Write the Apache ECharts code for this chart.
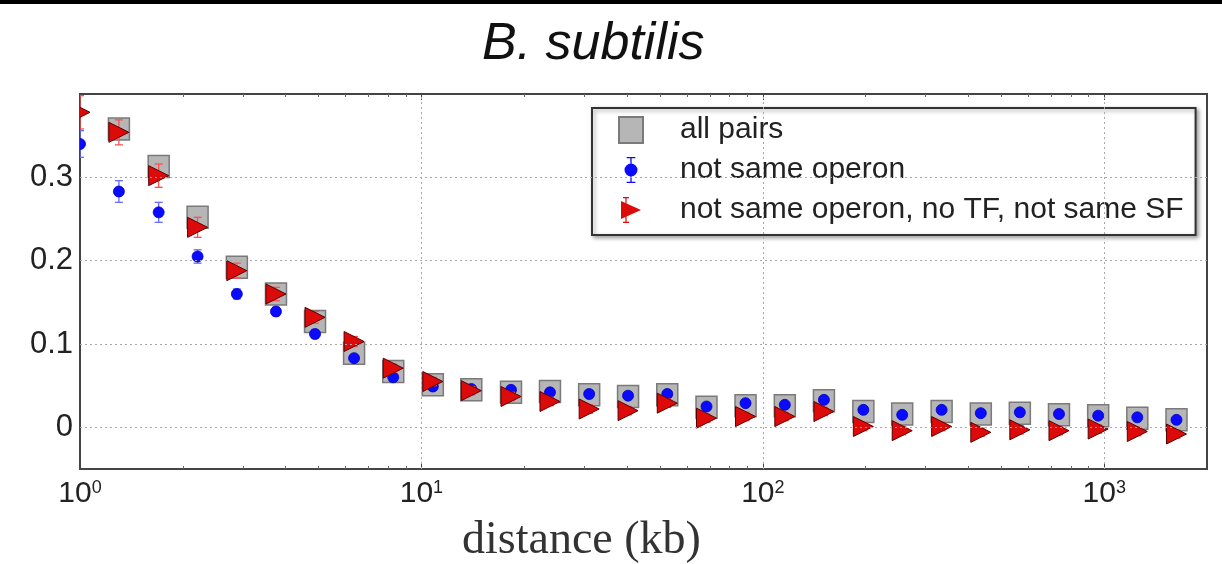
<!DOCTYPE html>
<html><head><meta charset="utf-8">
<script src="https://cdn.jsdelivr.net/npm/echarts@6/dist/echarts.min.js"></script>
<style>html,body{margin:0;padding:0;background:#fff}#c{width:1222px;height:564px}</style>
</head><body><div id="c"></div>
<script>
// distance bins (kb)
const distanceKb = [1.0, 1.30, 1.70, 2.21, 2.88, 3.75, 4.88, 6.35, 8.27, 10.8, 14.0, 18.3, 23.8, 31.0, 40.3, 52.5, 68.4, 89.0, 116, 151, 197, 256, 334, 435, 566, 737, 960, 1250, 1628];
const allPairs = [null, 0.358, 0.313, 0.252, 0.192, 0.160, 0.127, 0.089, 0.067, 0.051, 0.045, 0.042, 0.043, 0.039, 0.037, 0.039, 0.024, 0.026, 0.026, 0.032, 0.019, 0.016, 0.019, 0.016, 0.017, 0.015, 0.014, 0.011, 0.009];
const notSameOperon = [0.340, 0.283, 0.258, 0.205, 0.160, 0.139, 0.112, 0.083, 0.060, 0.049, 0.046, 0.045, 0.042, 0.040, 0.038, 0.040, 0.025, 0.029, 0.027, 0.033, 0.021, 0.015, 0.021, 0.017, 0.018, 0.016, 0.014, 0.012, 0.009];
const notSameOperonErr = [0.016, 0.013, 0.012, 0.008, 0.006, 0.005, 0.005, 0.004, 0.004, 0.004, 0.004, 0.004, 0.003, 0.003, 0.003, 0.003, 0.003, 0.003, 0.003, 0.003, 0.003, 0.003, 0.003, 0.003, 0.003, 0.003, 0.003, 0.003, 0.003];
const noTfNotSameSf = [0.378, 0.354, 0.302, 0.240, 0.188, 0.160, 0.132, 0.103, 0.071, 0.055, 0.044, 0.037, 0.031, 0.022, 0.020, 0.029, 0.011, 0.013, 0.013, 0.019, 0.001, -0.004, 0.001, -0.006, -0.003, -0.004, -0.002, -0.005, -0.008];
const noTfNotSameSfErr = [0.020, 0.015, 0.014, 0.012, 0.009, 0.008, 0.007, 0.006, 0.005, 0.005, 0.005, 0.005, 0.005, 0.005, 0.005, 0.005, 0.005, 0.005, 0.005, 0.005, 0.005, 0.005, 0.005, 0.005, 0.005, 0.005, 0.005, 0.005, 0.005];
const yGridValues = [0, 0.1, 0.2, 0.3];
const xGridValues = [10, 100, 1000];
const seriesNames = ['all pairs', 'not same operon', 'not same operon, no TF, not same SF'];
const titleText = 'B. subtilis';
const xAxisTitle = 'distance (kb)';

function rows(ys, errs) {
  const out = [];
  for (let i = 0; i < distanceKb.length; i++) {
    if (ys[i] == null) continue;
    out.push([distanceKb[i], ys[i], errs ? errs[i] : 0]);
  }
  return out;
}

function errorBar(api, x, y, e, color) {
  const top = api.coord([x, y + e]);
  const bot = api.coord([x, y - e]);
  const cx = top[0];
  return [
    {type: 'line', shape: {x1: cx, y1: top[1], x2: cx, y2: bot[1]}, style: {stroke: color, lineWidth: 1.3}},
    {type: 'line', shape: {x1: cx - 4, y1: top[1], x2: cx + 4, y2: top[1]}, style: {stroke: color, lineWidth: 1.3}},
    {type: 'line', shape: {x1: cx - 4, y1: bot[1], x2: cx + 4, y2: bot[1]}, style: {stroke: color, lineWidth: 1.3}}
  ];
}

function squareItem(params, api) {
  const p = api.coord([api.value(0), api.value(1)]);
  return {type: 'rect', shape: {x: p[0] - 10.5, y: p[1] - 11, width: 21, height: 22},
    style: {fill: '#b6b6b6', stroke: '#7a7a7a', lineWidth: 1.5}};
}
function dotItem(params, api) {
  const x = api.value(0), y = api.value(1), e = api.value(2);
  const p = api.coord([x, y]);
  const ch = errorBar(api, x, y, e, '#6a6aff');
  ch.push({type: 'circle', shape: {cx: p[0], cy: p[1], r: 5.5}, style: {fill: '#0a0aff', stroke: '#0000c0', lineWidth: 0.8}});
  return {type: 'group', children: ch};
}
function triItem(params, api) {
  const x = api.value(0), y = api.value(1), e = api.value(2);
  const p = api.coord([x, y]);
  const ch = errorBar(api, x, y, e, '#ff5050');
  ch.push({type: 'polygon', shape: {points: [[p[0] - 10, p[1] - 10], [p[0] + 10, p[1]], [p[0] - 10, p[1] + 10]]},
    style: {fill: '#dd0a0a', stroke: '#5a0000', lineWidth: 1}});
  return {type: 'group', children: ch};
}

const gridMarks = yGridValues.map(v => ({yAxis: v})).concat(xGridValues.map(v => ({xAxis: v})));

const xAxisBase = {
  type: 'log', logBase: 10, min: 1, max: 2000,
  axisLine: {show: true, onZero: false, lineStyle: {color: '#444', width: 2}},
  axisTick: {show: true, inside: true, length: 6, lineStyle: {color: '#444'}},
  minorTick: {show: true, splitNumber: 9, length: 3, lineStyle: {color: '#666'}},
  splitLine: {show: false}
};

const chart = echarts.init(document.getElementById('c'), null, {renderer: 'canvas'});
chart.setOption({
  backgroundColor: '#fff',
  animation: false,
  title: {
    text: titleText, left: 482, top: 19, padding: 0,
    textStyle: {fontFamily: 'Liberation Sans', fontStyle: 'italic', fontWeight: 'normal', fontSize: 52, color: '#111'}
  },
  graphic: [
    {type: 'rect', left: 0, top: 0, shape: {width: 1222, height: 4}, style: {fill: '#000'}},
    {type: 'text', left: 462, top: 518, style: {text: xAxisTitle, font: '46px "Liberation Serif"', fill: '#333'}}
  ],
  grid: {left: 80, right: 15, top: 94, bottom: 95, show: true, borderColor: '#444', borderWidth: 2, backgroundColor: 'transparent'},
  legend: {
    orient: 'vertical', left: 592, top: 108, padding: [7, 12, 10, 26],
    itemWidth: 24, itemHeight: 26, itemGap: 10, selectedMode: false,
    borderColor: '#333', borderWidth: 2, backgroundColor: '#fff',
    shadowColor: 'rgba(0,0,0,0.35)', shadowBlur: 4, shadowOffsetX: 2, shadowOffsetY: 2,
    textStyle: {fontFamily: 'Liberation Sans', fontSize: 30, lineHeight: 30, color: '#222', padding: [0, 0, 0, 32]},
    data: [
      {name: seriesNames[0], icon: 'rect'},
      {name: seriesNames[1], icon: 'path://M8,1 L16,1 L16,2.2 L8,2.2 Z M11.4,1 L12.6,1 L12.6,25 L11.4,25 Z M8,23.8 L16,23.8 L16,25 L8,25 Z M6,13 A6,6 0 1 1 18,13 A6,6 0 1 1 6,13 Z'},
      {name: seriesNames[2], icon: 'path://M4,0 L10,0 L10,1.2 L4,1.2 Z M6.4,0 L7.6,0 L7.6,26 L6.4,26 Z M4,24.8 L10,24.8 L10,26 L4,26 Z M2,4 L22,13 L2,22 Z'}
    ]
  },
  xAxis: [
    Object.assign({}, xAxisBase, {
      position: 'bottom',
      axisLabel: {
        margin: 10, color: '#222',
        formatter: function (v) {
          const e = Math.log10(v), r = Math.round(e);
          if (Math.abs(e - r) > 1e-6) return '';
          return '{b|10}{s|' + r + '}';
        },
        rich: {
          b: {fontFamily: 'Liberation Sans', fontSize: 30, color: '#222'},
          s: {fontFamily: 'Liberation Sans', fontSize: 18, color: '#222', verticalAlign: 'top'}
        }
      }
    }),
    Object.assign({}, xAxisBase, {position: 'top', axisLabel: {show: false}})
  ],
  yAxis: {
    type: 'value', min: -0.05, max: 0.4, interval: 0.05,
    axisLine: {show: true, onZero: false, lineStyle: {color: '#444', width: 2}},
    axisTick: {show: false},
    splitLine: {show: false},
    axisLabel: {
      margin: 7, fontFamily: 'Liberation Sans', fontSize: 31, color: '#222',
      formatter: function (v) {
        const k = Math.round(v * 100);
        if (k < 0 || k > 30 || k % 10 !== 0) return '';
        return k === 0 ? '0' : (k / 100).toFixed(1);
      }
    }
  },
  series: [
    {
      type: 'line', data: [], silent: true, z: 1,
      markLine: {silent: true, symbol: ['none', 'none'], label: {show: false},
        lineStyle: {type: [2, 3], color: '#a8a8a8', width: 1}, data: gridMarks}
    },
    {name: seriesNames[0], type: 'custom', clip: true, z: 2, renderItem: squareItem,
      itemStyle: {color: '#b6b6b6', borderColor: '#7a7a7a', borderWidth: 1.5},
      encode: {x: 0, y: 1}, data: rows(allPairs, null)},
    {name: seriesNames[1], type: 'custom', clip: true, z: 3, renderItem: dotItem,
      itemStyle: {color: '#0a0aff'},
      encode: {x: 0, y: 1}, data: rows(notSameOperon, notSameOperonErr)},
    {name: seriesNames[2], type: 'custom', clip: true, z: 4, renderItem: triItem,
      itemStyle: {color: '#dd0a0a', borderWidth: 0},
      encode: {x: 0, y: 1}, data: rows(noTfNotSameSf, noTfNotSameSfErr)}
  ]
});
</script></body></html>
